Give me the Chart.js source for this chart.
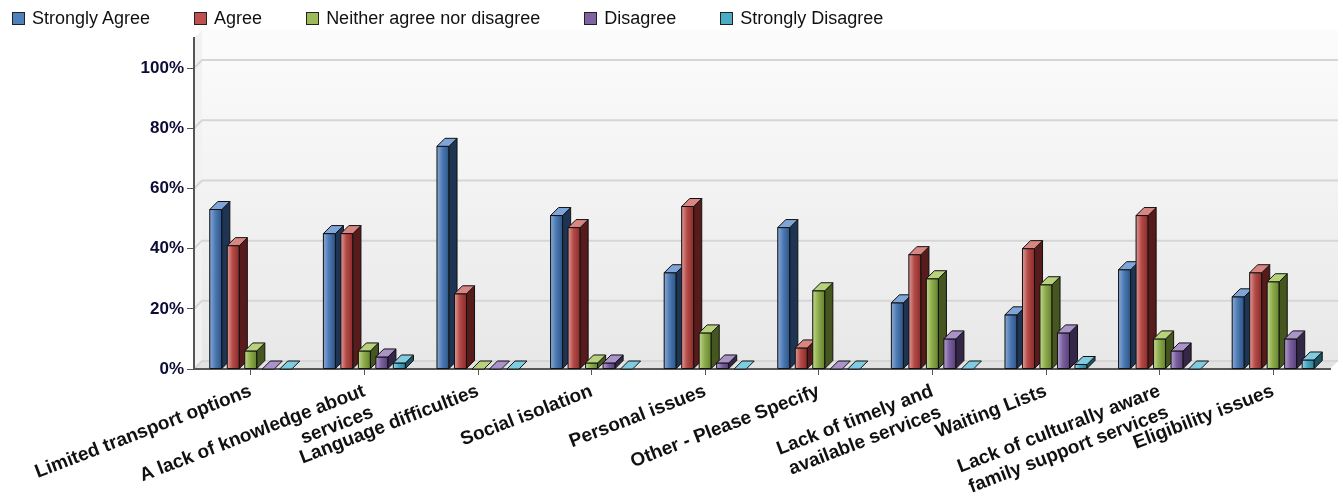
<!DOCTYPE html>
<html>
<head>
<meta charset="utf-8">
<title>Barriers to accessing services</title>
<script src="https://cdn.jsdelivr.net/npm/chart.js@4.4.1/dist/chart.umd.min.js"></script>
<style>
  body { margin: 0; background: #fff; font-family: "Liberation Sans", Arial, sans-serif; }
  #wrap { position: relative; width: 1343px; height: 502px; }
  #chart { display: block; }
  #legend { position: absolute; left: 12px; top: 8px; display: flex; font-size: 18px; color: #111; line-height: 20px; }
  .item { display: flex; align-items: center; margin-right: 44px; }
  .box { width: 11px; height: 11px; border: 1px solid #222; margin-right: 7px; }
</style>
</head>
<body>
<div id="wrap">
  <div id="legend"></div>
  <canvas id="chart" width="1343" height="502"></canvas>
</div>
<script>
const categories = [
  'Limited transport options',
  ['A lack of knowledge about', 'services'],
  'Language difficulties',
  'Social isolation',
  'Personal issues',
  'Other - Please Specify',
  ['Lack of timely and', 'available services'],
  'Waiting Lists',
  ['Lack of culturally aware', 'family support services'],
  'Eligibility issues'
];

const seriesNames = ['Strongly Agree', 'Agree', 'Neither agree nor disagree', 'Disagree', 'Strongly Disagree'];

const stronglyAgree    = [53, 45, 74, 51, 32, 47, 22, 18, 33, 24];
const agree            = [41, 45, 25, 47, 54, 7, 38, 40, 51, 32];
const neither          = [6, 6, 0, 2, 12, 26, 30, 28, 10, 29];
const disagree         = [0, 4, 0, 2, 2, 0, 10, 12, 6, 10];
const stronglyDisagree = [0, 2, 0, 0, 0, 0, 0, 1.5, 0, 3];

const yTicks = [0, 20, 40, 60, 80, 100];

// colours: legend swatch, then shades for the 3d faces
const legendColors = ['#4f81bd', '#c0504d', '#9bbb59', '#8064a2', '#4bacc6'];
const shades = [
  { light: '#8aa9d6', mid: '#4d7ab3', dark: '#2b5387', side: '#1e3453', top: '#7ea4d8' },
  { light: '#dd9a98', mid: '#b34a46', dark: '#8a2c2a', side: '#561b1a', top: '#d98582' },
  { light: '#c0d68e', mid: '#8eac4c', dark: '#64822e', side: '#45561e', top: '#b8d27c' },
  { light: '#b2a0cc', mid: '#7a5f9e', dark: '#573f7a', side: '#342647', top: '#a993c9' },
  { light: '#8fd2e4', mid: '#46a3bf', dark: '#2b7f98', side: '#1d5260', top: '#7fcbe0' }
];

const DEPTH = 8;

// html legend
const legendEl = document.getElementById('legend');
seriesNames.forEach((name, i) => {
  const item = document.createElement('div');
  item.className = 'item';
  const box = document.createElement('span');
  box.className = 'box';
  box.style.background = legendColors[i];
  const txt = document.createElement('span');
  txt.textContent = name;
  item.appendChild(box);
  item.appendChild(txt);
  legendEl.appendChild(item);
});

// back wall, floor and gridlines
const wallPlugin = {
  id: 'wall',
  beforeDraw(chart) {
    const { ctx, chartArea: a } = chart;
    const y = chart.scales.y;
    const d = DEPTH;
    ctx.save();

    const g = ctx.createLinearGradient(0, a.top - d, 0, a.bottom - d);
    g.addColorStop(0, '#fcfcfc');
    g.addColorStop(1, '#e8e8e8');
    ctx.fillStyle = g;
    ctx.fillRect(a.left + d, a.top - d, a.right - a.left, a.bottom - a.top);

    // left side wall
    ctx.beginPath();
    ctx.moveTo(a.left, a.top);
    ctx.lineTo(a.left + d, a.top - d);
    ctx.lineTo(a.left + d, a.bottom - d);
    ctx.lineTo(a.left, a.bottom);
    ctx.closePath();
    ctx.fillStyle = '#f2f2f2';
    ctx.fill();

    // floor
    ctx.beginPath();
    ctx.moveTo(a.left, a.bottom);
    ctx.lineTo(a.left + d, a.bottom - d);
    ctx.lineTo(a.right + d, a.bottom - d);
    ctx.lineTo(a.right, a.bottom);
    ctx.closePath();
    ctx.fillStyle = '#e2e2e2';
    ctx.fill();

    ctx.lineWidth = 2;
    ctx.strokeStyle = '#d6d6d6';
    yTicks.forEach(v => {
      const py = y.getPixelForValue(v);
      ctx.beginPath();
      ctx.moveTo(a.left, py);
      ctx.lineTo(a.left + d, py - d);
      ctx.lineTo(a.right + d, py - d);
      ctx.stroke();
    });
    ctx.restore();
  }
};

// draws each bar as a little box, left to right so fronts cover neighbours' sides
const barsPlugin = {
  id: 'bars3d',
  afterDatasetsDraw(chart) {
    const { ctx } = chart;
    const d = DEPTH;
    const metas = chart.data.datasets.map((ds, j) => chart.getDatasetMeta(j));
    ctx.save();
    ctx.lineWidth = 1;
    ctx.strokeStyle = '#111';
    ctx.lineJoin = 'round';
    for (let i = 0; i < categories.length; i++) {
      metas.forEach((meta, j) => {
        const el = meta.data[i];
        const s = shades[j];
        const l = el.x - el.width / 2;
        const r = el.x + el.width / 2;
        const t = el.y;
        const b = el.base;

        if (b - t >= 1) {
          const g = ctx.createLinearGradient(l, 0, r, 0);
          g.addColorStop(0, s.light);
          g.addColorStop(0.45, s.mid);
          g.addColorStop(1, s.dark);
          ctx.fillStyle = g;
          ctx.fillRect(l, t, r - l, b - t);
          ctx.strokeRect(l, t, r - l, b - t);

          ctx.beginPath();
          ctx.moveTo(r, t);
          ctx.lineTo(r + d, t - d);
          ctx.lineTo(r + d, b - d);
          ctx.lineTo(r, b);
          ctx.closePath();
          ctx.fillStyle = s.side;
          ctx.fill();
          ctx.stroke();
        }

        ctx.beginPath();
        ctx.moveTo(l, t);
        ctx.lineTo(l + d, t - d);
        ctx.lineTo(r + d, t - d);
        ctx.lineTo(r, t);
        ctx.closePath();
        ctx.fillStyle = s.top;
        ctx.fill();
        ctx.stroke();
      });
    }
    ctx.restore();
  }
};

const seriesValues = [stronglyAgree, agree, neither, disagree, stronglyDisagree];

new Chart(document.getElementById('chart'), {
  type: 'bar',
  data: {
    labels: categories,
    datasets: seriesValues.map((vals, i) => ({
      label: seriesNames[i],
      data: vals,
      backgroundColor: legendColors[i],
      borderWidth: 0,
      categoryPercentage: 0.77,
      barPercentage: 0.69
    }))
  },
  options: {
    responsive: false,
    animation: false,
    layout: { padding: { top: 38, right: 13, left: 0, bottom: 0 } },
    plugins: {
      legend: { display: false },
      tooltip: { enabled: false }
    },
    scales: {
      x: {
        afterFit(scale) { scale.height = 133; },
        grid: { offset: false, drawOnChartArea: false, tickLength: 6, color: '#555' },
        border: { display: true, color: '#555', width: 2 },
        ticks: {
          autoSkip: false,
          maxRotation: 21,
          minRotation: 21,
          padding: 5,
          color: '#111',
          font: { family: '"Liberation Sans", Arial, sans-serif', size: 19, weight: 'bold' }
        }
      },
      y: {
        min: 0,
        max: 110,
        afterFit(scale) { scale.width = 194; },
        grid: { drawOnChartArea: false, tickLength: 7, color: '#555' },
        border: { display: true, color: '#555', width: 2 },
        ticks: {
          stepSize: 20,
          includeBounds: false,
          padding: 3,
          color: '#0c0c36',
          font: { family: '"Liberation Sans", Arial, sans-serif', size: 17, weight: 'bold' },
          callback: v => v + '%'
        }
      }
    }
  },
  plugins: [wallPlugin, barsPlugin]
});
</script>
</body>
</html>
